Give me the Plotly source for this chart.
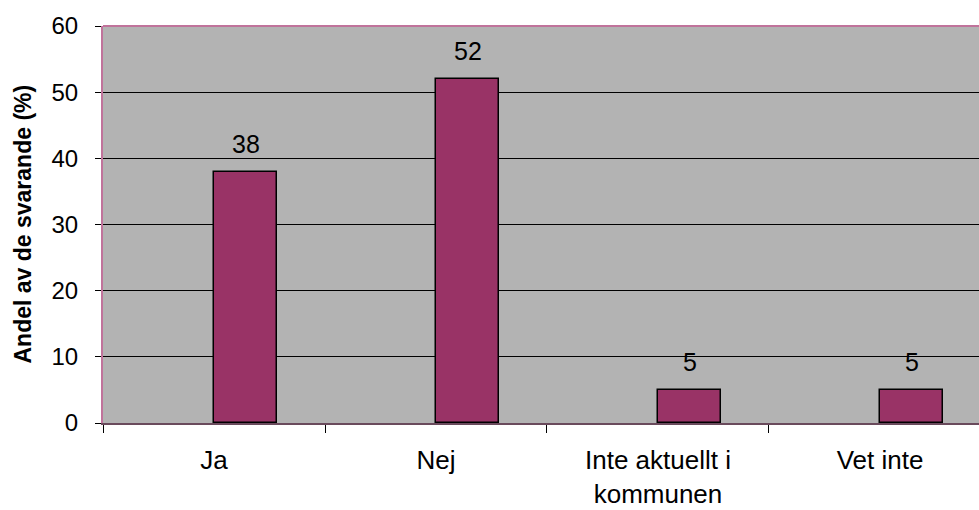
import plotly.graph_objects as go

categories = ["Ja", "Nej", "Inte aktuellt i<br>kommunen", "Vet inte"]
values = [38, 52, 5, 5]
y_ticks = [0, 10, 20, 30, 40, 50, 60]

BAR_W = 0.284
FONT = "Liberation Sans, Arial, sans-serif"

fig = go.Figure()
fig.add_trace(go.Bar(
    x=categories, y=values,
    offset=0, width=BAR_W,
    marker=dict(color="#993366", line=dict(color="black", width=1.5)),
    hoverinfo="x+y",
))

for i, v in enumerate(values):
    fig.add_annotation(
        x=i + BAR_W / 2, y=v, xref="x", yref="y",
        text=str(v), showarrow=False, yanchor="bottom", yshift=12,
        font=dict(family=FONT, size=25, color="black"),
    )

W, H = 979, 510
ML, MR, MT, MB = 103, 0, 26, 87
fig.update_layout(
    width=W, height=H,
    margin=dict(l=ML, r=MR, t=MT, b=MB, autoexpand=False),
    paper_bgcolor="white", plot_bgcolor="#b3b3b3",
    font=dict(family=FONT, size=24, color="black"),
    showlegend=False,
    bargap=0,
)
# axis title
fig.add_annotation(
    xref="paper", yref="paper", x=(22 - ML) / (W - ML - MR), y=0.5,
    text="<b>Andel av de svarande (%)</b>", textangle=-90, showarrow=False,
    xanchor="center", yanchor="middle",
    font=dict(family=FONT, size=23, color="black"),
)
# pink plot-area frame (top)
fig.add_shape(type="line", xref="paper", yref="paper", x0=0, x1=1, y0=1, y1=1,
              line=dict(color="#c0739b", width=2))

fig.update_xaxes(
    type="category", range=[-0.5, 3.446], automargin=False,
    tickson="boundaries", ticks="outside", ticklen=8, tickcolor="black",
    showline=True, linecolor="#6a4a5c", linewidth=1.5,
    showgrid=False, ticklabelstandoff=13,
    tickfont=dict(size=26),
)
fig.update_yaxes(
    range=[0, 60], tickvals=y_ticks, ticks="outside", ticklen=6, tickcolor="black",
    automargin=False,
    showgrid=True, gridcolor="black", gridwidth=1, zeroline=False,
    showline=True, linecolor="#c0739b", linewidth=2,
    ticklabelstandoff=12,
    tickfont=dict(size=24),
)
fig.write_html(
    "out.html",
    config={"displayModeBar": False},
    post_script="document.body.style.margin='0';document.body.style.overflow='hidden';",
)
